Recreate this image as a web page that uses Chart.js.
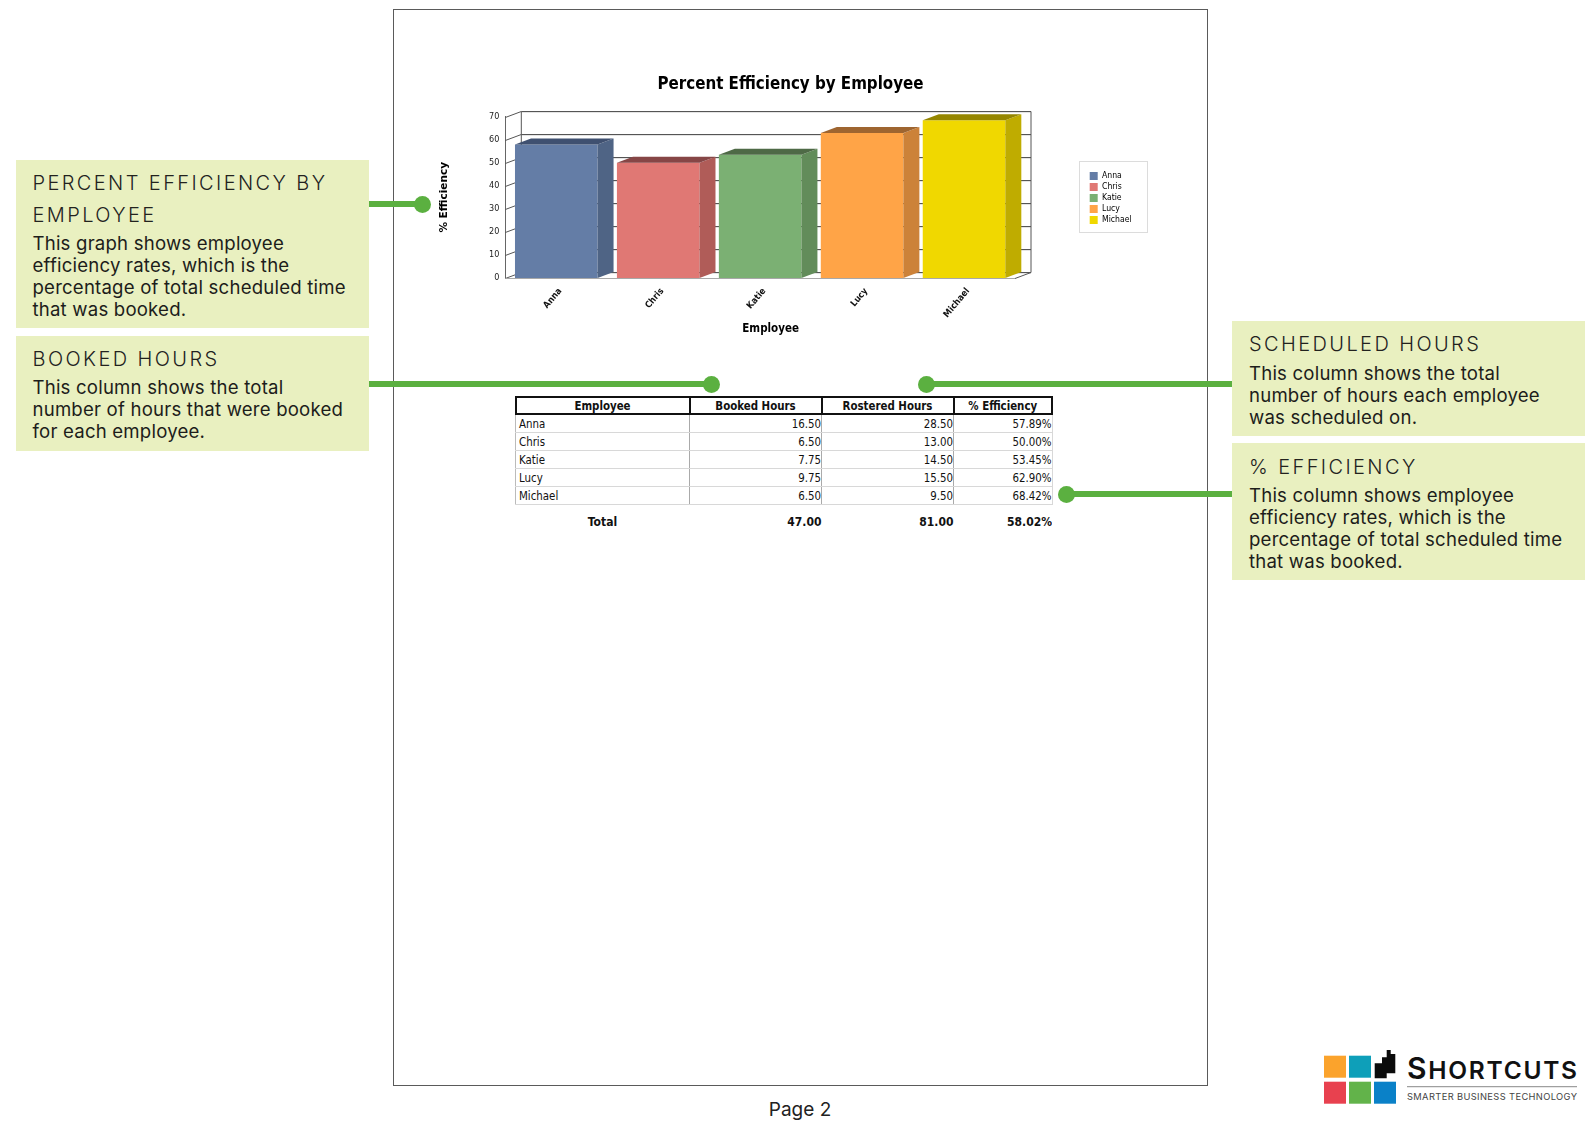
<!DOCTYPE html>
<html><head><meta charset="utf-8">
<script src="https://cdn.jsdelivr.net/npm/chart.js@4"></script>
<style>
html,body{margin:0;padding:0;background:#fff;width:1590px;height:1121px;overflow:hidden}
body{position:relative;font-family:"Inter","Noto Sans",sans-serif;color:#1d1d1b}
.page{position:absolute;left:393px;top:9px;width:813px;height:1075px;border:1px solid #5a5a5a;box-sizing:content-box}
.box{position:absolute;background:#e9f0c0}
.h{position:absolute;font-size:20px;line-height:32px;letter-spacing:2.4px;font-weight:300;white-space:nowrap;color:#22221e}
.b{position:absolute;font-size:18.6px;line-height:22px;letter-spacing:.2px;font-weight:400;white-space:nowrap;color:#1d1d1b}
.ln{position:absolute;height:6px;background:#5bb040}
.dot{position:absolute;width:17px;height:17px;border-radius:50%;background:#5bb040}
canvas{position:absolute;left:430px;top:60px}
#tbl{position:absolute;left:514.5px;top:396px;border-collapse:collapse;table-layout:fixed;font-family:"DejaVu Sans Condensed","DejaVu Sans",sans-serif;font-size:11.4px;color:#111}
#tbl td,#tbl th{padding:0;height:18px;line-height:16px;box-sizing:border-box;overflow:hidden;white-space:nowrap}
#tbl th{border:2px solid #111;font-weight:700;font-size:11.4px;text-align:center;height:17px;line-height:14px;padding-top:1px}
#tbl td{border-bottom:1px solid #d8d8d8;border-right:1px solid #aaa;text-align:right;padding-top:1px}
#tbl td:first-child{text-align:left;padding-left:3px;border-left:1px solid #bbb}
#tbl td:last-child{border-right:1px solid #d8d8d8}
#tbl tr.total td{border:none;font-weight:700;font-size:12px;height:25px;padding-top:9px}
#tbl tr.total td:first-child{text-align:center;padding-left:0}
.pg{position:absolute;left:700px;width:200px;text-align:center;top:1099px;font-size:19px;line-height:22px;color:#222}
.logo{position:absolute;left:1320px;top:1045px}
</style></head><body>
<div class="page"></div>

<div class="box" style="left:16px;top:160px;width:353px;height:168px"></div>
<div class="h" style="left:32.5px;top:167px">PERCENT EFFICIENCY BY<br>EMPLOYEE</div>
<div class="b" style="left:32.5px;top:231.5px">This graph shows employee<br>efficiency rates, which is the<br>percentage of total scheduled time<br>that was booked.</div>

<div class="box" style="left:16px;top:336px;width:353px;height:115px"></div>
<div class="h" style="left:32.5px;top:343px">BOOKED HOURS</div>
<div class="b" style="left:32.5px;top:376px">This column shows the total<br>number of hours that were booked<br>for each employee.</div>

<div class="box" style="left:1232px;top:321px;width:353px;height:115px"></div>
<div class="h" style="left:1249px;top:328px">SCHEDULED HOURS</div>
<div class="b" style="left:1249px;top:361.5px">This column shows the total<br>number of hours each employee<br>was scheduled on.</div>

<div class="box" style="left:1232px;top:443px;width:353px;height:137px"></div>
<div class="h" style="left:1249px;top:451px">% EFFICIENCY</div>
<div class="b" style="left:1249px;top:484px">This column shows employee<br>efficiency rates, which is the<br>percentage of total scheduled time<br>that was booked.</div>

<div class="ln" style="left:369px;top:201px;width:53px"></div><div class="dot" style="left:413.5px;top:195.5px"></div>
<div class="ln" style="left:369px;top:381px;width:343px"></div><div class="dot" style="left:703px;top:375.5px"></div>
<div class="ln" style="left:927px;top:381px;width:305px"></div><div class="dot" style="left:917.5px;top:375.5px"></div>
<div class="ln" style="left:1067px;top:491px;width:165px"></div><div class="dot" style="left:1058px;top:485.5px"></div>

<canvas id="c" width="740" height="290" style="width:740px;height:290px"></canvas>
<table id="tbl"></table>
<div class="pg">Page 2</div>

<svg class="logo" width="270" height="70" viewBox="0 0 270 70">
 <rect x="4" y="10.7" width="22" height="22" fill="#fba32c"/><rect x="29" y="10.7" width="22" height="22" fill="#0e9fb9"/>
 <rect x="4" y="36.7" width="22" height="22" fill="#e8414f"/><rect x="29" y="36.7" width="22" height="22" fill="#62b34a"/><rect x="54" y="36.7" width="22" height="22" fill="#0a81c8"/>
 <path d="M54.7 18.3H62V12.3H66.7V5H70.7V9H75.3V28.3H66.7V33.3H54.7Z" fill="#0b0b0b"/>
 <text x="87" y="33.5" font-family="Inter,sans-serif" font-weight="600" font-size="24.5" textLength="170" lengthAdjust="spacing" fill="#111"><tspan font-size="30">S</tspan>HORTCUTS</text>
 <rect x="87" y="41.2" width="170" height="1" fill="#888"/>
 <text x="87" y="55" font-family="Inter,sans-serif" font-size="9.3" textLength="170" lengthAdjust="spacing" fill="#444">SMARTER BUSINESS TECHNOLOGY</text>
</svg>

<script>
// ---- data ----
const employees = ["Anna","Chris","Katie","Lucy","Michael"];
const bookedHours = [16.50,6.50,7.75,9.75,6.50];
const rosteredHours = [28.50,13.00,14.50,15.50,9.50];
const efficiency = [57.89,50.00,53.45,62.90,68.42];
const totals = ["Total","47.00","81.00","58.02%"];
const tableHead = ["Employee","Booked Hours","Rostered Hours","% Efficiency"];
const yTicks = [0,10,20,30,40,50,60,70];
const chartTitle = "Percent Efficiency by Employee";
const xAxisTitle = "Employee";
const yAxisTitle = "% Efficiency";
// ---- styles ----
const frontColors = ["#647da6","#e07874","#7bb073","#ffa447","#f0d800"];
const sideColors  = ["#4f6485","#b05c58","#628c5a","#cc8239","#bfac00"];
const topColors   = ["#3f5070","#864646","#4e6a46","#9e6530","#958600"];
const DX = 16, DY = 6;
const uiFont = '"DejaVu Sans Condensed","DejaVu Sans",sans-serif';

// table
const tbl = document.getElementById("tbl");
const colW = [174,132,132,98.5];
tbl.style.width = colW.reduce((a,b)=>a+b,0)+"px";
tbl.innerHTML = "<colgroup>"+colW.map(w=>`<col style="width:${w}px">`).join("")+"</colgroup>"
 + "<tr>"+tableHead.map(h=>`<th>${h}</th>`).join("")+"</tr>"
 + employees.map((e,i)=>`<tr><td>${e}</td><td>${bookedHours[i].toFixed(2)}</td><td>${rosteredHours[i].toFixed(2)}</td><td>${efficiency[i].toFixed(2)}%</td></tr>`).join("")
 + `<tr class="total">${totals.map(t=>`<td>${t}</td>`).join("")}</tr>`;

const box3d = {
  id:"box3d",
  afterLayout(chart){
    const l = chart.legend; const w=l.width, h=l.height;
    l.left=657.3; l.right=657.3+w; l.top=102.5+((71-h)/2); l.bottom=l.top+h;
    // title is centred over the whole report block, not the plot
    chart.titleBlock.left=0; chart.titleBlock.right=721;
    // x-axis title sits centred on the 3D box rather than the front face
    const xs = chart.scales.x;
    if(!xs._shifted){ const o = xs.drawTitle; xs.drawTitle = function(){ const c=this.ctx; c.save(); c.translate(10.5,0); o.call(this); c.restore(); }; xs._shifted=true; }
  },
  beforeDatasetsDraw(chart){
    const {ctx,scales:{x,y}} = chart, L=x.left, R=x.right;
    ctx.save();
    ctx.lineWidth=1;
    y.ticks.forEach(t=>{
      const p = Math.round(y.getPixelForValue(t.value))+.5;
      ctx.strokeStyle="#e4e4e4"; ctx.beginPath();ctx.moveTo(L+DX,p-DY+1);ctx.lineTo(R+DX,p-DY+1);ctx.stroke();
      ctx.strokeStyle="#555"; ctx.beginPath();ctx.moveTo(L,p);ctx.lineTo(L+DX,p-DY);ctx.lineTo(R+DX,p-DY);ctx.stroke();
    });
    const top=Math.round(y.getPixelForValue(70))+.5, bot=Math.round(y.getPixelForValue(0))+.5;
    ctx.strokeStyle="#555"; ctx.beginPath();
    ctx.moveTo(L+DX,top-DY);ctx.lineTo(L+DX,bot-DY);
    ctx.moveTo(R+DX,top-DY);ctx.lineTo(R+DX,bot-DY);ctx.lineTo(R,bot);
    ctx.stroke();
    ctx.restore();
  },
  afterDatasetsDraw(chart){
    const {ctx,scales:{y}} = chart, meta = chart.getDatasetMeta(0);
    ctx.save();
    meta.data.forEach((b,i)=>{
      const p=b.getProps(["x","y","base","width"],true), l=p.x-p.width/2, r=p.x+p.width/2;
      ctx.fillStyle=sideColors[i];
      ctx.beginPath();ctx.moveTo(r,p.y);ctx.lineTo(r+DX,p.y-DY);ctx.lineTo(r+DX,p.base-DY);ctx.lineTo(r,p.base);ctx.closePath();ctx.fill();
      ctx.fillStyle=topColors[i];
      ctx.beginPath();ctx.moveTo(l,p.y);ctx.lineTo(l+DX,p.y-DY);ctx.lineTo(r+DX,p.y-DY);ctx.lineTo(r,p.y);ctx.closePath();ctx.fill();
    });
    const bot=Math.round(y.getPixelForValue(0))+.5;
    ctx.strokeStyle="#a8a8a8";ctx.lineWidth=1;ctx.beginPath();ctx.moveTo(chart.scales.x.left,bot);ctx.lineTo(chart.scales.x.right,bot);ctx.stroke();
    ctx.strokeStyle="#dcdcdc";ctx.strokeRect(649.5,101.5,68,71);
    ctx.restore();
  }
};

new Chart(document.getElementById("c"),{
  type:"bar",
  plugins:[box3d],
  data:{labels:employees,datasets:[{label:yAxisTitle,data:efficiency,backgroundColor:frontColors,borderWidth:0,categoryPercentage:1,barPercentage:.81}]},
  options:{
    responsive:false,animation:false,devicePixelRatio:1,
    layout:{padding:{left:0,right:155,top:0,bottom:0}},
    plugins:{
      tooltip:{enabled:false},
      title:{display:true,text:chartTitle,color:"#000",font:{family:uiFont,size:16.8,weight:"bold"},padding:{top:15,bottom:21.4},fullSize:true,align:"center"},
      legend:{display:true,position:"chartArea",
        labels:{font:{family:uiFont,size:8.6},color:"#222",boxWidth:8,boxHeight:8,padding:2.4,
          generateLabels:()=>employees.map((e,i)=>({text:e,fillStyle:frontColors[i],strokeStyle:frontColors[i],lineWidth:0,index:i}))}}
    },
    scales:{
      x:{offset:true,grid:{display:false,drawTicks:false},border:{display:false},
        afterFit(s){s.height=72},
        ticks:{autoSkip:false,minRotation:50,maxRotation:50,padding:8,labelOffset:4,color:"#111",font:{family:uiFont,size:9,weight:"bold"}},
        title:{display:true,text:xAxisTitle,color:"#000",font:{family:uiFont,size:11.5,weight:"bold"},padding:{top:0,bottom:14}}},
      y:{min:0,max:70,afterBuildTicks(s){s.ticks=yTicks.map(v=>({value:v}))},
        afterFit(s){s.width=75.3},
        grid:{display:false,drawTicks:false},border:{display:true,color:"#666"},
        ticks:{padding:6,color:"#222",font:{family:uiFont,size:9}},
        title:{display:true,text:yAxisTitle,color:"#000",font:{family:"DejaVu Sans",size:10.5,weight:"bold"},padding:{top:8,bottom:0}}}
    }
  }
});
</script>
</body></html>
